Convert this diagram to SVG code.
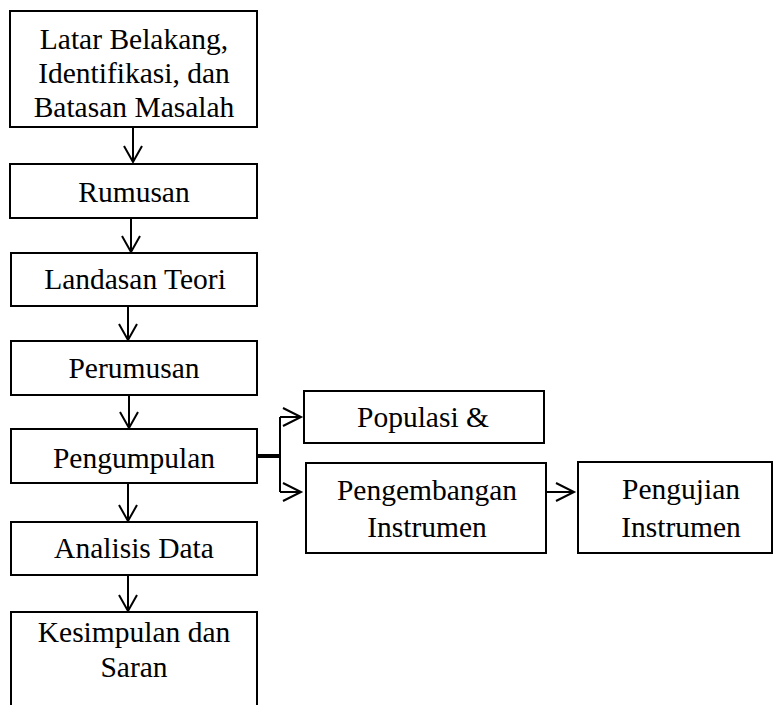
<svg xmlns="http://www.w3.org/2000/svg" width="784" height="705" viewBox="0 0 784 705">
<style>
.box{fill:#fff;stroke:#000;stroke-width:2}
.t{font-family:"Liberation Serif","Times New Roman",serif;font-size:29.5px;fill:#000;text-anchor:middle}
.c{fill:none;stroke:#000;stroke-width:2}
</style>
<rect width="784" height="705" fill="#fff"/>
<g id="n1"><rect class="box" x="10" y="11" width="247" height="116"/>
<text class="t" x="134" y="49">Latar Belakang,</text><text class="t" x="134" y="83">Identifikasi, dan</text><text class="t" x="134" y="117">Batasan Masalah</text></g>
<g id="n2"><rect class="box" x="10" y="164" width="247" height="54"/><text class="t" x="134" y="202">Rumusan</text></g>
<g id="n3"><rect class="box" x="11" y="253" width="246" height="53"/><text class="t" x="135" y="289">Landasan Teori</text></g>
<g id="n4"><rect class="box" x="11" y="341" width="246" height="54"/><text class="t" x="134" y="378">Perumusan</text></g>
<g id="n5"><rect class="box" x="11" y="429" width="246" height="54"/><text class="t" x="134" y="468">Pengumpulan</text></g>
<g id="n6"><rect class="box" x="11" y="522" width="246" height="53"/><text class="t" x="134" y="558">Analisis Data</text></g>
<g id="n7"><rect class="box" x="11" y="612" width="246" height="110"/><text class="t" x="134" y="642">Kesimpulan dan</text><text class="t" x="134" y="677">Saran</text></g>
<g id="n8"><rect class="box" x="304" y="391" width="240" height="52"/><text class="t" x="423" y="427">Populasi &amp;</text></g>
<g id="n9"><rect class="box" x="306" y="463" width="240" height="90"/><text class="t" x="427" y="500">Pengembangan</text><text class="t" x="427" y="537">Instrumen</text></g>
<g id="n10"><rect class="box" x="578" y="462" width="194" height="91"/><text class="t" x="681" y="499">Pengujian</text><text class="t" x="681" y="537">Instrumen</text></g>
<g id="connectors">
<path class="c" d="M133 127V162M124 146L133 162L142 146"/>
<path class="c" d="M131 218V252M122 236L131 252L140 236"/>
<path class="c" d="M128 306V340M119 324L128 340L137 324"/>
<path class="c" d="M129 395V428M120 412L129 428L138 412"/>
<path class="c" d="M128 483V521M119 505L128 521L137 505"/>
<path class="c" d="M128 575V611M119 595L128 611L137 595"/>
<path d="M257 456H280" stroke="#000" stroke-width="4" fill="none"/>
<path class="c" d="M280 417V492M280 417H301M283 408L301 417L283 426M280 492H301M283 483L301 492L283 501"/>
<path class="c" d="M546 492H574M556 483L574 492L556 501"/>
</g>
</svg>
